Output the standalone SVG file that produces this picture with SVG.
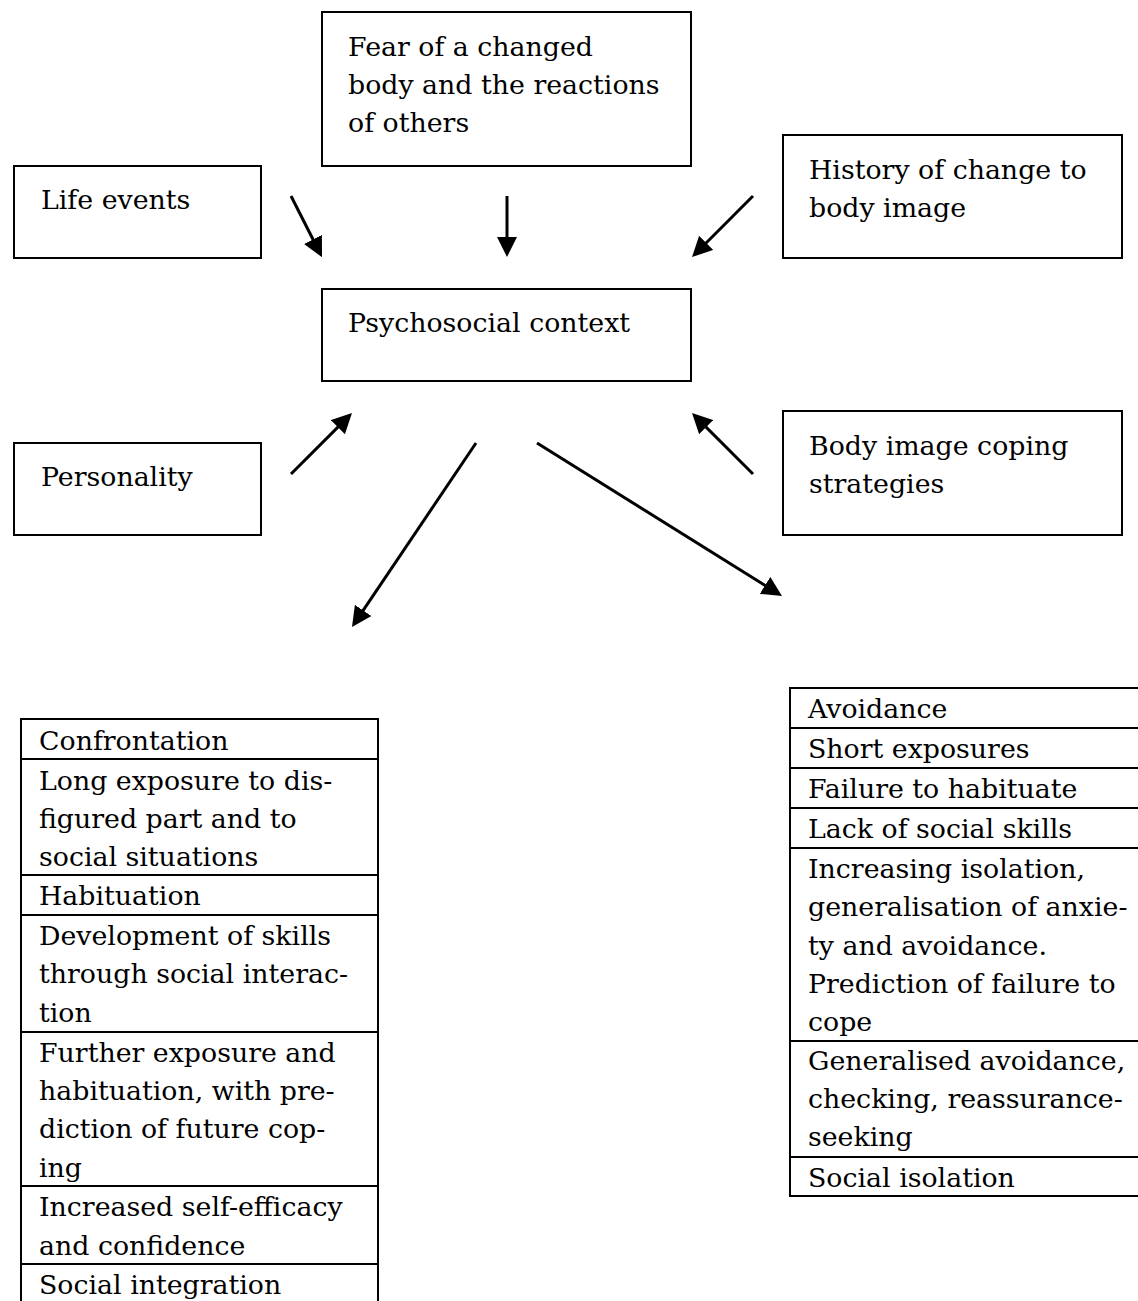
<svg xmlns="http://www.w3.org/2000/svg" width="1138" height="1301" viewBox="0 0 1138 1301">
<defs>
<marker id="ah" markerUnits="userSpaceOnUse" markerWidth="20" markerHeight="20" refX="10" refY="10" orient="auto"><path d="M0,0 L20,10 L0,20 z" fill="#000"/></marker>
</defs>
<style>
.t{font-family:"DejaVu Serif","Liberation Serif",serif;font-size:26.8px;fill:#000}
.box{fill:#fff;stroke:#000;stroke-width:2}
.cn{stroke:#000;stroke-width:3;fill:none;marker-end:url(#ah)}
.rl{stroke:#000;stroke-width:2}
</style>
<rect width="1138" height="1301" fill="#fff"/>
<g id="connectors">
<line class="cn" x1="291" y1="196" x2="317.5" y2="248.3"/>
<line class="cn" x1="507" y1="196" x2="507" y2="247"/>
<line class="cn" x1="753" y1="196" x2="699.1" y2="250"/>
<line class="cn" x1="291" y1="474" x2="344.9" y2="420.1"/>
<line class="cn" x1="753" y1="474" x2="699.1" y2="420.1"/>
<line class="cn" x1="476" y1="443" x2="357.6" y2="618.7"/>
<line class="cn" x1="537" y1="443" x2="773.5" y2="590.7"/>
</g>
<g id="fear">
<rect class="box" x="322" y="12" width="369" height="154"/>
<text class="t" x="348" y="56">Fear of a changed</text>
<text class="t" x="348" y="94">body and the reactions</text>
<text class="t" x="348" y="132">of others</text>
</g>
<g id="life-events">
<rect class="box" x="14" y="166" width="247" height="92"/>
<text class="t" x="41" y="209">Life events</text>
</g>
<g id="history">
<rect class="box" x="783" y="135" width="339" height="123"/>
<text class="t" x="809" y="179">History of change to</text>
<text class="t" x="809" y="217">body image</text>
</g>
<g id="psychosocial">
<rect class="box" x="322" y="289" width="369" height="92"/>
<text class="t" x="348" y="332">Psychosocial context</text>
</g>
<g id="personality">
<rect class="box" x="14" y="443" width="247" height="92"/>
<text class="t" x="41" y="486">Personality</text>
</g>
<g id="coping">
<rect class="box" x="783" y="411" width="339" height="124"/>
<text class="t" x="809" y="455">Body image coping</text>
<text class="t" x="809" y="493">strategies</text>
</g>
<g id="confrontation-table">
<rect class="box" x="21" y="719" width="357" height="600"/>
<line class="rl" x1="21" y1="759" x2="378" y2="759"/>
<line class="rl" x1="21" y1="875" x2="378" y2="875"/>
<line class="rl" x1="21" y1="915" x2="378" y2="915"/>
<line class="rl" x1="21" y1="1032" x2="378" y2="1032"/>
<line class="rl" x1="21" y1="1186" x2="378" y2="1186"/>
<line class="rl" x1="21" y1="1264" x2="378" y2="1264"/>
<text class="t" x="39" y="750">Confrontation</text>
<text class="t" x="39" y="790">Long exposure to dis-</text>
<text class="t" x="39" y="828">figured part and to</text>
<text class="t" x="39" y="866">social situations</text>
<text class="t" x="39" y="905">Habituation</text>
<text class="t" x="39" y="945">Development of skills</text>
<text class="t" x="39" y="983">through social interac-</text>
<text class="t" x="39" y="1022">tion</text>
<text class="t" x="39" y="1062">Further exposure and</text>
<text class="t" x="39" y="1100">habituation, with pre-</text>
<text class="t" x="39" y="1138">diction of future cop-</text>
<text class="t" x="39" y="1177">ing</text>
<text class="t" x="39" y="1216">Increased self-efficacy</text>
<text class="t" x="39" y="1255">and confidence</text>
<text class="t" x="39" y="1294">Social integration</text>
</g>
<g id="avoidance-table">
<rect class="box" x="790" y="688" width="360" height="508"/>
<line class="rl" x1="790" y1="728" x2="1150" y2="728"/>
<line class="rl" x1="790" y1="768" x2="1150" y2="768"/>
<line class="rl" x1="790" y1="808" x2="1150" y2="808"/>
<line class="rl" x1="790" y1="848" x2="1150" y2="848"/>
<line class="rl" x1="790" y1="1041" x2="1150" y2="1041"/>
<line class="rl" x1="790" y1="1157" x2="1150" y2="1157"/>
<text class="t" x="808" y="718">Avoidance</text>
<text class="t" x="808" y="758">Short exposures</text>
<text class="t" x="808" y="798">Failure to habituate</text>
<text class="t" x="808" y="838">Lack of social skills</text>
<text class="t" x="808" y="878">Increasing isolation,</text>
<text class="t" x="808" y="916">generalisation of anxie-</text>
<text class="t" x="808" y="955">ty and avoidance.</text>
<text class="t" x="808" y="993">Prediction of failure to</text>
<text class="t" x="808" y="1031">cope</text>
<text class="t" x="808" y="1070">Generalised avoidance,</text>
<text class="t" x="808" y="1108">checking, reassurance-</text>
<text class="t" x="808" y="1146">seeking</text>
<text class="t" x="808" y="1187">Social isolation</text>
</g>
</svg>
